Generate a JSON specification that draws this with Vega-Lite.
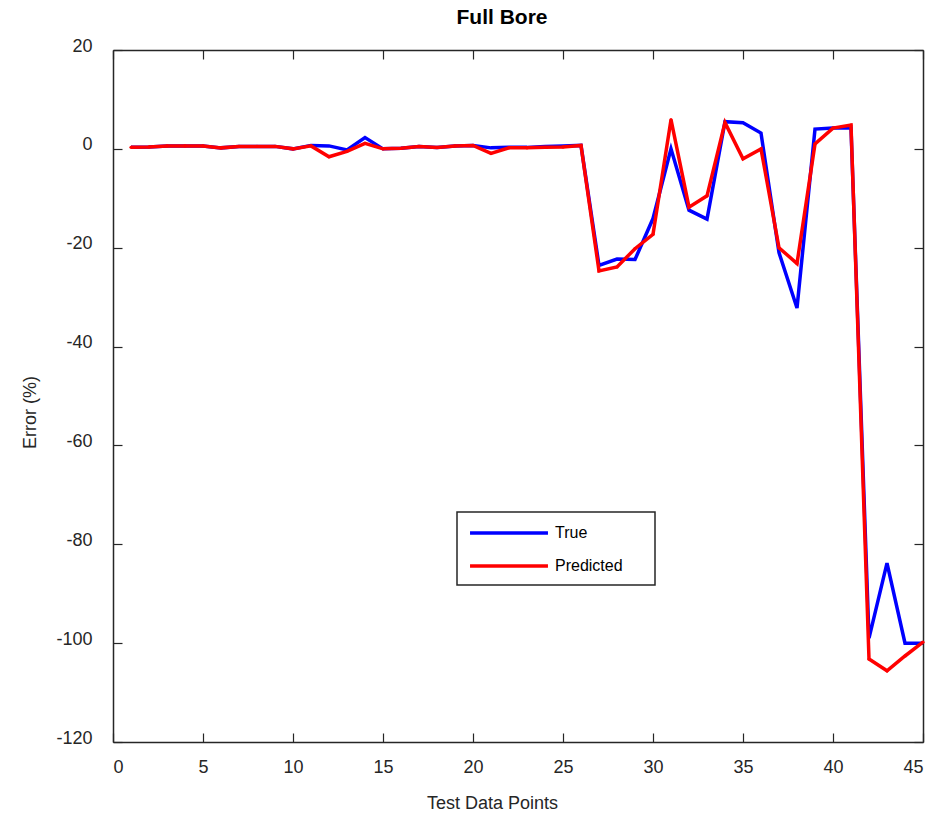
{
  "$schema": "https://vega.github.io/schema/vega-lite/v6.json",
  "autosize": {"type": "none"},
  "padding": {"left": 113, "top": 50, "right": 9, "bottom": 76},
  "width": 810,
  "height": 692,
  "background": "white",
  "title": {"text": "Full Bore", "fontSize": 21, "font": "Liberation Sans", "fontWeight": "bold", "color": "#000000", "anchor": "middle", "dx": -16, "offset": 9},
  "config": {
    "view": {"stroke": null},
    "axis": {
      "labelFont": "Liberation Sans", "labelFontSize": 18, "labelColor": "#262626",
      "titleFont": "Liberation Sans", "titleFontSize": 18, "titleColor": "#262626", "titleFontWeight": "normal",
      "domainColor": "#262626", "domainWidth": 1.5, "tickColor": "#262626", "tickWidth": 1.2,
      "grid": false
    },
    "legend": {
      "orient": "none", "legendX": 344, "legendY": 462,
      "strokeColor": "#262626", "strokeWidth": 1.5, "fillColor": "white",
      "padding": 11, "rowPadding": 15,
      "symbolType": "M-5,0H5", "symbolSize": 243, "symbolStrokeWidth": 3.5, "symbolOffset": 31,
      "labelFont": "Liberation Sans", "labelFontSize": 16, "labelColor": "#000000", "labelOffset": 36
    }
  },
  "data": {"values": [
    {"x":1,"s":"True","v":0.3},{"x":2,"s":"True","v":0.4},{"x":3,"s":"True","v":0.6},{"x":4,"s":"True","v":0.6},{"x":5,"s":"True","v":0.6},
    {"x":6,"s":"True","v":0.2},{"x":7,"s":"True","v":0.5},{"x":8,"s":"True","v":0.5},{"x":9,"s":"True","v":0.5},{"x":10,"s":"True","v":0.0},
    {"x":11,"s":"True","v":0.7},{"x":12,"s":"True","v":0.6},{"x":13,"s":"True","v":-0.2},{"x":14,"s":"True","v":2.3},{"x":15,"s":"True","v":0.0},
    {"x":16,"s":"True","v":0.1},{"x":17,"s":"True","v":0.5},{"x":18,"s":"True","v":0.3},{"x":19,"s":"True","v":0.6},{"x":20,"s":"True","v":0.7},
    {"x":21,"s":"True","v":0.2},{"x":22,"s":"True","v":0.3},{"x":23,"s":"True","v":0.3},{"x":24,"s":"True","v":0.5},{"x":25,"s":"True","v":0.6},
    {"x":26,"s":"True","v":0.7},{"x":27,"s":"True","v":-23.6},{"x":28,"s":"True","v":-22.3},{"x":29,"s":"True","v":-22.4},{"x":30,"s":"True","v":-14.1},
    {"x":31,"s":"True","v":0.0},{"x":32,"s":"True","v":-12.4},{"x":33,"s":"True","v":-14.2},{"x":34,"s":"True","v":5.5},{"x":35,"s":"True","v":5.3},
    {"x":36,"s":"True","v":3.2},{"x":37,"s":"True","v":-21.0},{"x":38,"s":"True","v":-32.2},{"x":39,"s":"True","v":4.0},{"x":40,"s":"True","v":4.2},
    {"x":41,"s":"True","v":4.2},{"x":42,"s":"True","v":-99.0},{"x":43,"s":"True","v":-83.8},{"x":44,"s":"True","v":-100.0},{"x":45,"s":"True","v":-100.0},
    {"x":1,"s":"Predicted","v":0.3},{"x":2,"s":"Predicted","v":0.4},{"x":3,"s":"Predicted","v":0.6},{"x":4,"s":"Predicted","v":0.6},{"x":5,"s":"Predicted","v":0.6},
    {"x":6,"s":"Predicted","v":0.2},{"x":7,"s":"Predicted","v":0.5},{"x":8,"s":"Predicted","v":0.5},{"x":9,"s":"Predicted","v":0.5},{"x":10,"s":"Predicted","v":0.0},
    {"x":11,"s":"Predicted","v":0.6},{"x":12,"s":"Predicted","v":-1.6},{"x":13,"s":"Predicted","v":-0.5},{"x":14,"s":"Predicted","v":1.1},{"x":15,"s":"Predicted","v":0.0},
    {"x":16,"s":"Predicted","v":0.1},{"x":17,"s":"Predicted","v":0.5},{"x":18,"s":"Predicted","v":0.3},{"x":19,"s":"Predicted","v":0.6},{"x":20,"s":"Predicted","v":0.7},
    {"x":21,"s":"Predicted","v":-0.9},{"x":22,"s":"Predicted","v":0.2},{"x":23,"s":"Predicted","v":0.2},{"x":24,"s":"Predicted","v":0.3},{"x":25,"s":"Predicted","v":0.4},
    {"x":26,"s":"Predicted","v":0.7},{"x":27,"s":"Predicted","v":-24.7},{"x":28,"s":"Predicted","v":-23.9},{"x":29,"s":"Predicted","v":-20.2},{"x":30,"s":"Predicted","v":-17.3},
    {"x":31,"s":"Predicted","v":5.9},{"x":32,"s":"Predicted","v":-11.8},{"x":33,"s":"Predicted","v":-9.5},{"x":34,"s":"Predicted","v":5.3},{"x":35,"s":"Predicted","v":-2.0},
    {"x":36,"s":"Predicted","v":0.0},{"x":37,"s":"Predicted","v":-20.0},{"x":38,"s":"Predicted","v":-23.2},{"x":39,"s":"Predicted","v":1.0},{"x":40,"s":"Predicted","v":4.2},
    {"x":41,"s":"Predicted","v":4.8},{"x":42,"s":"Predicted","v":-103.2},{"x":43,"s":"Predicted","v":-105.6},{"x":44,"s":"Predicted","v":-102.6},{"x":45,"s":"Predicted","v":-99.8}
  ]},
  "layer": [
    {
      "mark": {"type": "line", "strokeWidth": 3.5, "clip": true},
      "encoding": {
        "x": {"field": "x", "type": "quantitative", "scale": {"domain": [0, 45], "nice": false},
              "axis": {"orient": "bottom", "title": "Test Data Points", "values": [0,5,10,15,20,25,30,35,40,45], "tickSize": -9, "labelPadding": 25, "labelExpr": "toString(datum.value)", "titleX": 379, "titleY": 61, "titleBaseline": "middle", "titleAnchor": "middle"}},
        "y": {"field": "v", "type": "quantitative", "scale": {"domain": [-120, 20], "nice": false},
              "axis": {"orient": "left", "title": "Error (%)", "values": [-120,-100,-80,-60,-40,-20,0,20], "tickSize": -9, "labelPadding": 30, "labelOffset": -4, "labelExpr": "toString(datum.value)", "titleX": -83, "titleY": 362, "titleBaseline": "middle", "titleAnchor": "middle", "titleAngle": -90}},
        "color": {"field": "s", "type": "nominal", "scale": {"domain": ["True", "Predicted"], "range": ["#0000FF", "#FF0000"]},
                  "legend": {"title": null, "labelExpr": "datum.label + '\u2003\u2004\u200b'"}},
        "order": {"field": "x", "type": "quantitative"}
      }
    },
    {
      "transform": [{"filter": "datum.s === 'Predicted'"}],
      "mark": {"type": "point", "filled": true, "size": 10, "color": "#FF0000", "opacity": 1},
      "encoding": {
        "x": {"field": "x", "type": "quantitative", "scale": {"domain": [0, 45], "nice": false},
              "axis": {"orient": "top", "title": null, "labels": false, "values": [0,5,10,15,20,25,30,35,40,45], "tickSize": -9}},
        "y": {"field": "v", "type": "quantitative", "scale": {"domain": [-120, 20], "nice": false},
              "axis": {"orient": "right", "title": null, "labels": false, "values": [-120,-100,-80,-60,-40,-20,0,20], "tickSize": -9}}
      }
    }
  ],
  "resolve": {"axis": {"x": "independent", "y": "independent"}}
}
